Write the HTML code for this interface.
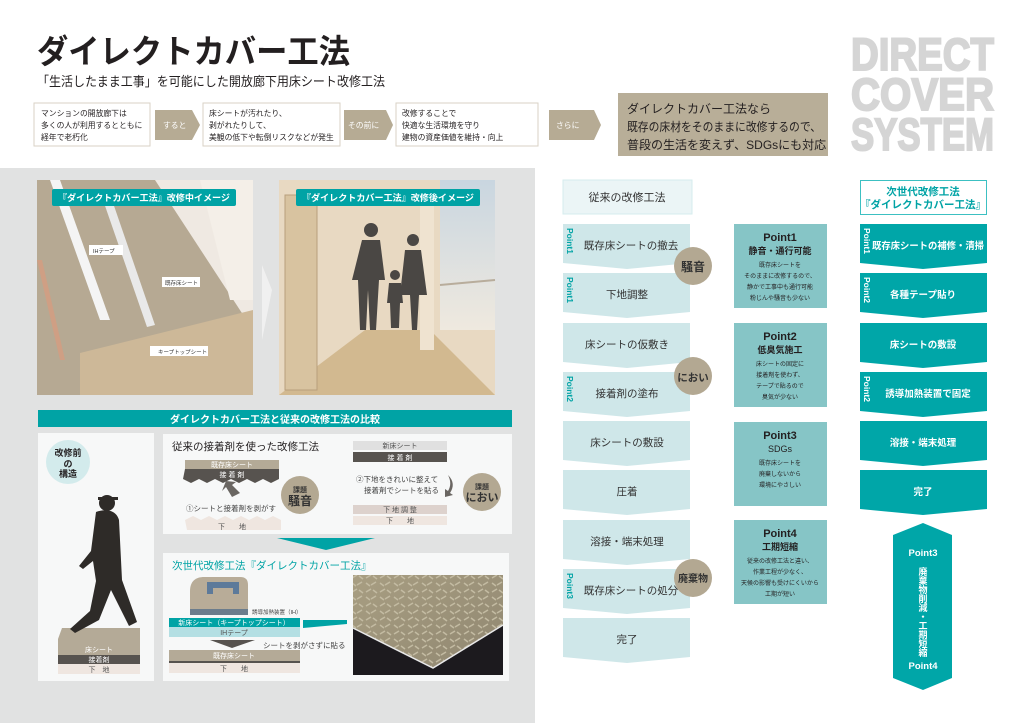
<!DOCTYPE html>
<html><head><meta charset="utf-8"><style>
html,body{margin:0;padding:0;background:#fff;}
svg{display:block;font-family:"Liberation Sans","Noto Sans CJK JP",sans-serif;}
</style></head><body>
<svg width="1024" height="723" viewBox="0 0 1024 723" xmlns="http://www.w3.org/2000/svg">
<defs>
<linearGradient id="sky" x1="0" y1="0" x2="0" y2="1"><stop offset="0" stop-color="#c9d6e0"/><stop offset="1" stop-color="#efe9df"/></linearGradient>
<linearGradient id="plate" x1="0" y1="0" x2="1" y2="1"><stop offset="0" stop-color="#a89e82"/><stop offset="1" stop-color="#8f8670"/></linearGradient>
<pattern id="tread" width="14" height="14" patternUnits="userSpaceOnUse"><path d="M2 4l5-3M7 11l5-3M2 9l4 3M9 2l4 3" stroke="#c3bba2" stroke-width="1.5"/></pattern>
</defs>
<rect width="1024" height="723" fill="#fff"/>
<!-- Title -->
<text x="37" y="63" font-size="33" font-weight="bold" fill="#231f20" textLength="313" lengthAdjust="spacingAndGlyphs">ダイレクトカバー工法</text>
<text x="37" y="86" font-size="13" fill="#231f20" textLength="348" lengthAdjust="spacingAndGlyphs">「生活したまま工事」を可能にした開放廊下用床シート改修工法</text>
<g font-weight="bold" fill="#d5d5d5" stroke="#d5d5d5" stroke-width="2" font-size="45">
<text x="851" y="70" textLength="143" lengthAdjust="spacingAndGlyphs">DIRECT</text>
<text x="851" y="110" textLength="143" lengthAdjust="spacingAndGlyphs">COVER</text>
<text x="851" y="150" textLength="143" lengthAdjust="spacingAndGlyphs">SYSTEM</text>
</g>
<!-- flow -->
<g font-size="7.8" fill="#231f20">
<rect x="34" y="103" width="116" height="43" fill="#fff" stroke="#d8d2c6"/>
<text x="41" y="116">マンションの開放廊下は</text><text x="41" y="128">多くの人が利用するとともに</text><text x="41" y="140">経年で老朽化</text>
<polygon points="155,110 192,110 200,125 192,140 155,140" fill="#b6ab94"/><text x="163" y="128" fill="#fff">すると</text>
<rect x="203" y="103" width="137" height="43" fill="#fff" stroke="#d8d2c6"/>
<text x="209" y="116">床シートが汚れたり、</text><text x="209" y="128">剥がれたりして、</text><text x="209" y="140">美観の低下や転倒リスクなどが発生</text>
<polygon points="344,110 386,110 393,125 386,140 344,140" fill="#b6ab94"/><text x="348" y="128" fill="#fff">その前に</text>
<rect x="396" y="103" width="142" height="43" fill="#fff" stroke="#d8d2c6"/>
<text x="402" y="116">改修することで</text><text x="402" y="128">快適な生活環境を守り</text><text x="402" y="140">建物の資産価値を維持・向上</text>
<polygon points="549,110 594,110 601,125 594,140 549,140" fill="#b6ab94"/><text x="556" y="128" fill="#fff">さらに</text>
</g>
<rect x="618" y="93" width="210" height="63" fill="#b8ae98"/>
<g font-size="12" fill="#231f20"><text x="627" y="113">ダイレクトカバー工法なら</text><text x="627" y="131" textLength="194" lengthAdjust="spacingAndGlyphs">既存の床材をそのままに改修するので、</text><text x="627" y="149">普段の生活を変えず、SDGsにも対応</text></g>

<!-- left gray panel -->
<rect x="0" y="168" width="535" height="555" fill="#e1e2e2"/>
<!-- photo1 -->
<rect x="37" y="180" width="216" height="215" fill="#efe9e2"/>
<polygon points="37,180 155,180 253,330 253,395 37,395" fill="#b6a993"/>
<polygon points="50,180 60,180 110,320 100,320" fill="#f4f4f4"/>
<polygon points="103,200 112,200 155,325 147,327" fill="#e9e9e9"/>
<polygon points="37,260 42,260 65,360 60,360" fill="#cf9f84"/>
<polygon points="80,353 253,310 253,395 80,395" fill="#cdb898"/>
<polygon points="200,180 253,180 253,300 230,300" fill="#f4efe8"/>
<rect x="89" y="245" width="34" height="10" fill="#fff"/><text x="93" y="253" font-size="5.5" fill="#333">IHテープ</text>
<rect x="162" y="277" width="38" height="10" fill="#fff"/><text x="165" y="285" font-size="5.5" fill="#333">既存床シート</text>
<rect x="150" y="346" width="58" height="10" fill="#fff"/><text x="158" y="354" font-size="5.5" fill="#333">キープトップシート</text>
<rect x="52" y="189" width="184" height="17" rx="2" fill="#00a3a5"/>
<text x="144" y="201" font-size="9" font-weight="bold" fill="#fff" text-anchor="middle" textLength="172" lengthAdjust="spacingAndGlyphs">『ダイレクトカバー工法』改修中イメージ</text>
<polygon points="262,265 272,290 262,340" fill="#f0f0f0"/>
<!-- photo2 -->
<rect x="279" y="180" width="216" height="215" fill="#e8d9c2"/>
<rect x="440" y="180" width="55" height="150" fill="url(#sky)"/>
<polygon points="279,395 495,395 430,330 365,330" fill="#d2b990"/>
<rect x="285" y="195" width="32" height="195" fill="#d8c3a0" stroke="#b89f7c"/>
<rect x="420" y="200" width="14" height="150" fill="#efe3d0"/>
<line x1="440" y1="285" x2="495" y2="280" stroke="#b8ad9c" stroke-width="2"/>
<g fill="#4a4744">
<circle cx="371" cy="230" r="7"/><path d="M362 240h18l5 40h-6l-3 50h-6l-2-40-2 40h-6l-2-50h-6z"/>
<circle cx="413" cy="240" r="6"/><path d="M405 250h16l6 45h-8l-2 35h-5l-2-35h-6l-4-0z"/>
<circle cx="395" cy="275" r="5"/><path d="M389 283h12l2 20h-3l-1 25h-8l-1-25h-3z"/>
</g>
<rect x="296" y="189" width="184" height="17" rx="2" fill="#00a3a5"/>
<text x="388" y="201" font-size="9" font-weight="bold" fill="#fff" text-anchor="middle" textLength="172" lengthAdjust="spacingAndGlyphs">『ダイレクトカバー工法』改修後イメージ</text>

<!-- comparison -->
<rect x="38" y="410" width="474" height="17" fill="#00a3a5"/>
<text x="275" y="423" font-size="10" font-weight="bold" fill="#fff" text-anchor="middle">ダイレクトカバー工法と従来の改修工法の比較</text>
<rect x="38" y="433" width="116" height="248" fill="#f7f8f8"/>
<circle cx="68" cy="462" r="22" fill="#d3ebec"/>
<g font-size="9" font-weight="bold" fill="#231f20" text-anchor="middle"><text x="68" y="456">改修前</text><text x="68" y="467">の</text><text x="68" y="477">構造</text></g>
<polygon points="58,639 62,628 140,628 140,639" fill="#b4aa97"/>
<rect x="58" y="639" width="82" height="16" fill="#b4aa97"/>
<rect x="58" y="655" width="82" height="9" fill="#57534f"/>
<rect x="58" y="664" width="82" height="10" fill="#efe6e0"/>
<text x="99" y="652" font-size="7" fill="#fff" text-anchor="middle">床シート</text>
<text x="99" y="662" font-size="7" fill="#fff" text-anchor="middle">接着剤</text>
<text x="99" y="672" font-size="7" fill="#555" text-anchor="middle">下　地</text>
<g fill="#2e2b28">
<circle cx="107" cy="503" r="8"/><path d="M98 500h20v-3h-20z"/>
<path d="M96 512c8-3 20-3 23 8l3 60 15 42-8 4-18-36-12 30-24 13-5-4 20-18 6-30-3-20-10 8-4-3 12-15z"/>
</g>
<rect x="163" y="434" width="349" height="100" fill="#f7f8f8"/>
<text x="172" y="450" font-size="10.5" fill="#231f20">従来の接着剤を使った改修工法</text>
<rect x="185" y="460" width="94" height="9" fill="#b4aa97"/><text x="232" y="467" font-size="7" fill="#fff" text-anchor="middle">既存床シート</text>
<path d="M185 469h94v10l-8 4-8-4-8 4-8-4-8 4-8-4-8 4-8-4-8 4-8-4-8 4-8-4z" fill="#57534f"/>
<text x="232" y="477" font-size="7" fill="#fff" text-anchor="middle">接 着 剤</text>
<path d="M185 520l8-4 8 4 8-4 8 4 8-4 8 4 8-4 8 4 8-4 8 4 8-4 8 4v10h-94z" fill="#efe6e0"/>
<text x="232" y="529" font-size="7" fill="#555" text-anchor="middle">下　　地</text>
<text x="186" y="511" font-size="7.5" fill="#444">①シートと接着剤を剥がす</text>
<path d="M232 497l-6-10-4 4 4-10 10 1-4 3 8 8z" fill="#6a6662"/>
<g fill="#b3a892"><circle cx="300" cy="495" r="19"/></g>
<text x="300" y="492" font-size="7" font-weight="bold" fill="#333" text-anchor="middle">課題</text>
<text x="300" y="505" font-size="12" font-weight="bold" fill="#333" text-anchor="middle">騒音</text>
<rect x="353" y="441" width="94" height="9" fill="#e0e0e0"/><text x="400" y="448" font-size="7" fill="#555" text-anchor="middle">新床シート</text>
<rect x="353" y="452" width="94" height="10" fill="#57534f"/><text x="400" y="460" font-size="7" fill="#fff" text-anchor="middle">接 着 剤</text>
<text x="356" y="482" font-size="7.5" fill="#444">②下地をきれいに整えて</text>
<text x="364" y="493" font-size="7.5" fill="#444">接着剤でシートを貼る</text>
<path d="M448 475c6 6 6 12 2 18l3 2-8 2 0-8 3 2c3-5 3-10 0-16z" fill="#6a6662"/>
<rect x="353" y="505" width="94" height="9" fill="#ddd2cd"/><text x="400" y="512" font-size="7" fill="#555" text-anchor="middle">下 地 調 整</text>
<rect x="353" y="516" width="94" height="9" fill="#efe6e0"/><text x="400" y="523" font-size="7" fill="#555" text-anchor="middle">下　　地</text>
<circle cx="482" cy="492" r="19" fill="#b3a892"/>
<text x="482" y="489" font-size="7" font-weight="bold" fill="#333" text-anchor="middle">課題</text>
<text x="482" y="501" font-size="11" font-weight="bold" fill="#333" text-anchor="middle">におい</text>
<polygon points="277,538 375,538 326,550" fill="#00a3a5"/>
<rect x="163" y="553" width="346" height="128" fill="#f7f8f8"/>
<text x="172" y="569" font-size="10.5" fill="#00a3a5">次世代改修工法『ダイレクトカバー工法』</text>
<path d="M190 615v-24c0-10 6-14 14-14h36c6 0 8 3 8 8v30z" fill="#b8ac98"/>
<path d="M207 582h32v12h-6v-6h-20v6h-6z" fill="#5d7a9a"/>
<rect x="190" y="609" width="58" height="6" fill="#6b7c8c"/>
<text x="252" y="614" font-size="5.5" fill="#444">誘導加熱装置（IH）</text>
<rect x="169" y="618" width="131" height="9" fill="#00a3a5"/><text x="234" y="625" font-size="7" fill="#fff" text-anchor="middle">新床シート（キープトップシート）</text>
<rect x="169" y="627" width="131" height="10" fill="#b4dfe3"/><text x="234" y="635" font-size="7" fill="#555" text-anchor="middle">IHテープ</text>
<polygon points="210,640 255,640 232,648" fill="#57534f"/>
<text x="263" y="648" font-size="7.5" fill="#444">シートを剥がさずに貼る</text>
<rect x="169" y="650" width="131" height="11" fill="#b4aa97"/><text x="234" y="658" font-size="7" fill="#fff" text-anchor="middle">既存床シート</text>
<rect x="169" y="661" width="131" height="2" fill="#57534f"/>
<rect x="169" y="663" width="131" height="10" fill="#efe6e0"/><text x="234" y="671" font-size="7" fill="#555" text-anchor="middle">下　　地</text>
<polygon points="303,620 347,620 347,624 303,628" fill="#00a3a5"/>
<rect x="353" y="575" width="150" height="100" fill="url(#plate)"/>
<rect x="353" y="575" width="150" height="100" fill="url(#tread)"/>
<polygon points="353,628 433,668 503,625 503,675 353,675" fill="#1c1a1e"/>
<polyline points="353,628 433,668 503,625" fill="none" stroke="#e8e8e8" stroke-width="1.5"/>

<!-- Traditional column -->
<rect x="563" y="180" width="129" height="34" fill="#ebf5f6" stroke="#d6ecee"/>
<text x="627" y="201" font-size="11" fill="#333" text-anchor="middle">従来の改修工法</text>
<g fill="#cfe7e9">
<polygon points="563,224 690,224 690,263 627,269 563,263"/>
<polygon points="563,273 690,273 690,312 627,318 563,312"/>
<polygon points="563,323 690,323 690,362 627,368 563,362"/>
<polygon points="563,372 690,372 690,411 627,417 563,411"/>
<polygon points="563,421 690,421 690,460 627,466 563,460"/>
<polygon points="563,470 690,470 690,509 627,515 563,509"/>
<polygon points="563,520 690,520 690,559 627,565 563,559"/>
<polygon points="563,569 690,569 690,608 627,614 563,608"/>
<polygon points="563,618 690,618 690,657 627,663 563,657"/>
</g>
<g font-size="10.5" fill="#333" text-anchor="middle">
<text x="631" y="249">既存床シートの撤去</text>
<text x="627" y="298">下地調整</text>
<text x="627" y="348">床シートの仮敷き</text>
<text x="627" y="397">接着剤の塗布</text>
<text x="627" y="446">床シートの敷設</text>
<text x="627" y="495">圧着</text>
<text x="627" y="545">溶接・端末処理</text>
<text x="631" y="594">既存床シートの処分</text>
<text x="627" y="643">完了</text>
</g>
<g font-size="8.5" font-weight="bold" fill="#00a3a5">
<text transform="translate(567,228) rotate(90)">Point1</text>
<text transform="translate(567,277) rotate(90)">Point1</text>
<text transform="translate(567,376) rotate(90)">Point2</text>
<text transform="translate(567,573) rotate(90)">Point3</text>
</g>
<g fill="#b3a892"><circle cx="693" cy="266" r="19"/><circle cx="693" cy="376" r="19"/><circle cx="693" cy="578" r="19"/></g>
<g font-weight="bold" fill="#333" text-anchor="middle">
<text x="693" y="271" font-size="12">騒音</text>
<text x="693" y="381" font-size="10.5">におい</text>
<text x="693" y="582" font-size="10">廃棄物</text>
</g>
<!-- Points -->
<g fill="#86c5c6">
<rect x="734" y="224" width="93" height="84"/><rect x="734" y="323" width="93" height="84"/>
<rect x="734" y="422" width="93" height="84"/><rect x="734" y="520" width="93" height="84"/>
</g>
<g text-anchor="middle" fill="#231f20">
<text x="780" y="241" font-size="11" font-weight="bold">Point1</text><text x="780" y="254" font-size="9" font-weight="bold">静音・通行可能</text>
<g font-size="6"><text x="780" y="267">既存床シートを</text><text x="780" y="278">そのままに改修するので、</text><text x="780" y="289">静かで工事中も通行可能</text><text x="780" y="300">粉じんや騒音も少ない</text></g>
<text x="780" y="340" font-size="11" font-weight="bold">Point2</text><text x="780" y="353" font-size="9" font-weight="bold">低臭気施工</text>
<g font-size="6"><text x="780" y="366">床シートの固定に</text><text x="780" y="377">接着剤を使わず、</text><text x="780" y="388">テープで貼るので</text><text x="780" y="399">臭気が少ない</text></g>
<text x="780" y="439" font-size="11" font-weight="bold">Point3</text><text x="780" y="452" font-size="9">SDGs</text>
<g font-size="6"><text x="780" y="465">既存床シートを</text><text x="780" y="476">廃棄しないから</text><text x="780" y="487">環境にやさしい</text></g>
<text x="780" y="537" font-size="11" font-weight="bold">Point4</text><text x="780" y="550" font-size="9" font-weight="bold">工期短縮</text>
<g font-size="6"><text x="780" y="563">従来の改修工法と違い、</text><text x="780" y="574">作業工程が少なく、</text><text x="780" y="585">天候の影響も受けにくいから</text><text x="780" y="596">工期が短い</text></g>
</g>
<!-- Direct cover column -->
<rect x="860.5" y="180.5" width="126" height="34" fill="#fff" stroke="#3cc0c2"/>
<g font-size="10.5" font-weight="bold" fill="#00a3a5" text-anchor="middle"><text x="923" y="195">次世代改修工法</text><text x="923" y="208">『ダイレクトカバー工法』</text></g>
<g fill="#00a6a8">
<polygon points="860,224 987,224 987,263 923,269 860,263"/>
<polygon points="860,273 987,273 987,312 923,318 860,312"/>
<polygon points="860,323 987,323 987,362 923,368 860,362"/>
<polygon points="860,372 987,372 987,411 923,417 860,411"/>
<polygon points="860,421 987,421 987,460 923,466 860,460"/>
<polygon points="860,470 987,470 987,509 923,515 860,509"/>
<polygon points="923,523 952,535 952,678 923,690 893,678 893,535"/>
</g>
<g font-size="9.5" font-weight="bold" fill="#fff" text-anchor="middle">
<text x="928" y="249" textLength="112" lengthAdjust="spacingAndGlyphs">既存床シートの補修・清掃</text>
<text x="923" y="298">各種テープ貼り</text>
<text x="923" y="348">床シートの敷設</text>
<text x="928" y="397">誘導加熱装置で固定</text>
<text x="923" y="446">溶接・端末処理</text>
<text x="923" y="495">完了</text>
<text x="923" y="556">Point3</text>
<text x="923" y="669">Point4</text>
</g>
<g font-size="8.5" font-weight="bold" fill="#fff">
<text transform="translate(864,228) rotate(90)">Point1</text>
<text transform="translate(864,277) rotate(90)">Point2</text>
<text transform="translate(864,376) rotate(90)">Point2</text>
</g>
<g font-size="9" font-weight="bold" fill="#fff" text-anchor="middle">
<text x="923" y="575">廃</text><text x="923" y="584">棄</text><text x="923" y="593">物</text><text x="923" y="602">削</text><text x="923" y="611">減</text><text x="923" y="620">・</text><text x="923" y="629">工</text><text x="923" y="638">期</text><text x="923" y="647">短</text><text x="923" y="656">縮</text>
</g>
</svg>
</body></html>
